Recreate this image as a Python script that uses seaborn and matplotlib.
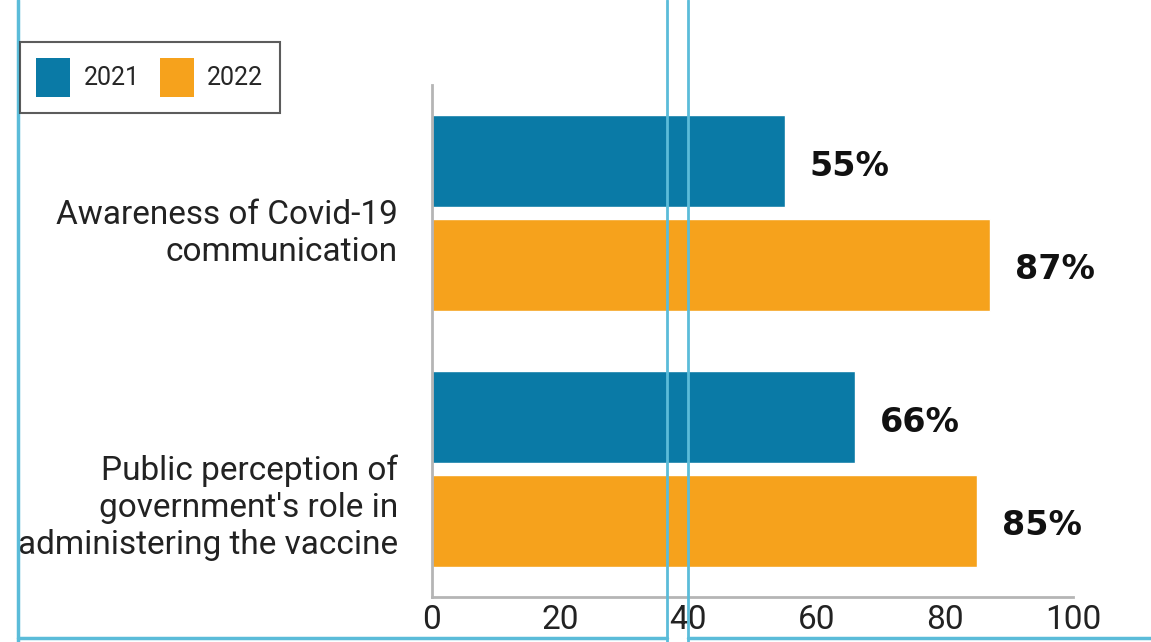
import pandas as pd
import matplotlib.pyplot as plt
import seaborn as sns
from matplotlib.patches import Patch
from matplotlib.lines import Line2D

categories = ["Awareness of Covid-19\ncommunication",
              "Public perception of\ngovernment's role in\nadministering the vaccine"]
years = ["2021", "2022"]
values_2021 = [55, 66]
values_2022 = [87, 85]
xticks = [0, 20, 40, 60, 80, 100]

colors = {"2021": "#0a7aa6", "2022": "#f6a21c"}

df = pd.DataFrame({
    "categoria": categories * 2,
    "year": ["2021"] * len(categories) + ["2022"] * len(categories),
    "valor": values_2021 + values_2022,
})

sns.set_style("white")
plt.rcParams['font.family'] = ['Roboto', 'DejaVu Sans']

fig = plt.figure(figsize=(11.51, 6.42), dpi=100)
ax = fig.add_axes([0.3753, 0.0701, 0.5569, 0.7975])

sns.barplot(data=df, y="categoria", x="valor", hue="year", palette=colors,
            orient="h", width=0.81, gap=0.116, legend=False, ax=ax,
            saturation=1)

for bars in ax.containers:
    for b in bars:
        w = b.get_width()
        ax.text(w + 3.9, b.get_y() + b.get_height() / 2 + 0.02, f"{w:.0f}%",
                va="center", ha="left", fontsize=24, fontweight="bold",
                family=['DejaVu Sans'], color="#111111")

ax.set_xlim(0, 100)
ax.set_ylim(1.5, -0.5)
ax.set_xticks(xticks)
ax.set_xlabel("")
ax.set_ylabel("")

for s in ["top", "right"]:
    ax.spines[s].set_visible(False)
for s in ["left", "bottom"]:
    ax.spines[s].set_color("#b5b5b5")
    ax.spines[s].set_linewidth(2)

ax.tick_params(axis="x", direction="in", length=9, width=1.5, color="#b5b5b5",
               labelsize=24, pad=5, labelcolor="#222222")
ax.tick_params(axis="y", direction="in", length=11, width=2, color="#c8c8c8",
               labelleft=False)

# etiquetas de categoria: la primera linea a la altura de la marca
for i, cat in enumerate(categories):
    ax.text(-0.053, i - 0.055, cat, transform=ax.get_yaxis_transform(),
            ha="right", va="top", multialignment="right",
            fontsize=24, linespacing=1.2, color="#222222")

# leyenda
handles = [Patch(facecolor=colors[y], edgecolor="none", label=y) for y in years]
leg = fig.legend(handles=handles, loc="upper left", bbox_to_anchor=(0.0174, 0.935),
                 ncol=2, frameon=True, fancybox=False, fontsize=18,
                 handlelength=1.35, handleheight=2.0, columnspacing=0.8,
                 handletextpad=0.55, borderpad=0.65, borderaxespad=0)
leg.get_frame().set_edgecolor("#333333")
leg.get_frame().set_linewidth(1.5)

# bordes celestes del recuadro
cyan = "#5bbcd9"
fig.add_artist(Line2D([18 / 1151, 18 / 1151], [0, 1], color=cyan, lw=2.5))
fig.add_artist(Line2D([667 / 1151, 667 / 1151], [0, 1], color=cyan, lw=2))
fig.add_artist(Line2D([688 / 1151, 688 / 1151], [0, 1], color=cyan, lw=2))
fig.add_artist(Line2D([18 / 1151, 667 / 1151], [4 / 642, 4 / 642], color=cyan, lw=2.5))
fig.add_artist(Line2D([688 / 1151, 1], [4 / 642, 4 / 642], color=cyan, lw=2.5))

plt.savefig("out.png", dpi=100)
